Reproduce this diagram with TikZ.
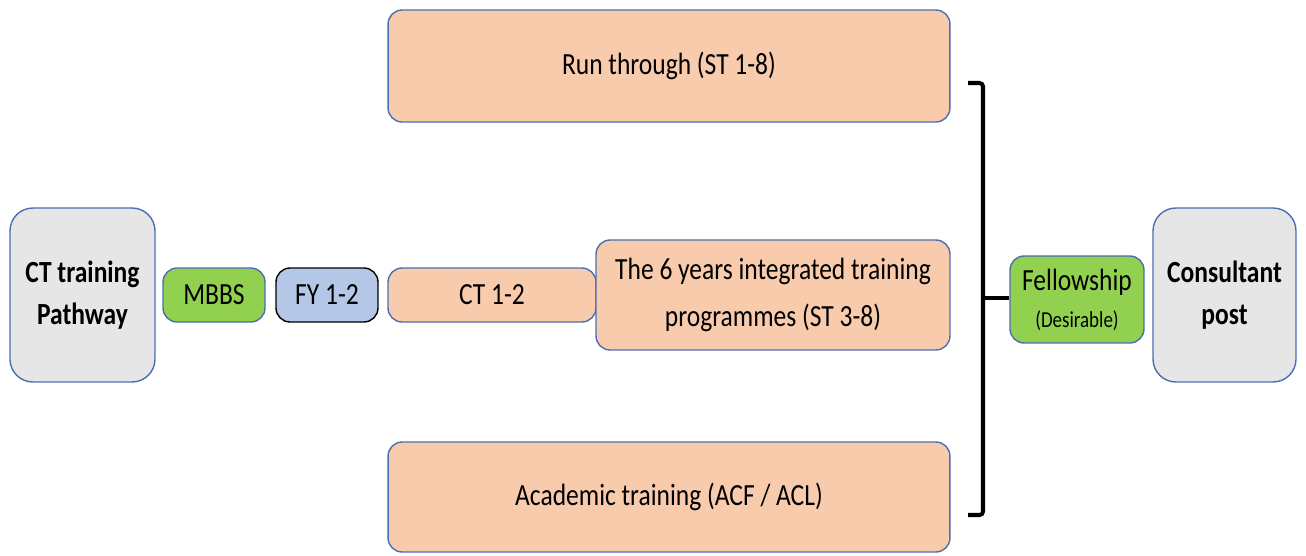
\documentclass[tikz,border=0pt]{standalone}
\usepackage{fontspec}
\setmainfont{Carlito}[FakeStretch=0.83]
\definecolor{boxgray}{HTML}{E7E6E6}
\definecolor{boxline}{HTML}{4A6FB0}
\definecolor{boxorange}{HTML}{F8CBAD}
\definecolor{boxgreen}{HTML}{92D050}
\definecolor{boxblue}{HTML}{B4C7E7}
\tikzset{
    stage/.style={draw=boxline, line width=0.8pt, rounded corners=8pt, align=center,
        font=\fontsize{17.5}{27}\selectfont, inner sep=2pt},
    endbox/.style={stage, fill=boxgray, rounded corners=13pt,
        font=\fontsize{17.5}{24}\selectfont\bfseries},
}
\begin{document}
\begin{tikzpicture}[x=0.02cm, y=-0.02cm]
            \useasboundingbox (0, 0) rectangle (1306, 555);

            \node[endbox, minimum width=2.9cm, minimum height=3.48cm] (path) at (82.5, 295) {CT training\\Pathway};
            \node[stage, fill=boxgreen, minimum width=2.04cm, minimum height=1.08cm] (mbbs) at (214, 295) {MBBS};
            \node[stage, fill=boxblue, draw=black, minimum width=2.04cm, minimum height=1.08cm] (fy) at (327, 295) {FY 1-2};
            \node[stage, fill=boxorange, minimum width=4.16cm, minimum height=1.08cm] (ct) at (492, 295) {CT 1-2};
            \node[stage, fill=boxorange, minimum width=7.08cm, minimum height=2.2cm] (integ) at (773, 295) {The 6 years integrated training\\programmes (ST 3-8)};
            \node[stage, fill=boxorange, minimum width=11.24cm, minimum height=2.24cm] (run) at (669, 66) {Run through (ST 1-8)};
            \node[stage, fill=boxorange, minimum width=11.24cm, minimum height=2.2cm] (acad) at (669, 497) {Academic training (ACF / ACL)};
            \node[stage, fill=boxgreen, minimum width=2.68cm, minimum height=1.74cm] (fellow) at (1077, 299.5) {Fellowship\\[-6pt]{\fontsize{13}{15}\selectfont (Desirable)}};
            \node[endbox, minimum width=2.86cm, minimum height=3.48cm] (cons) at (1224.5, 295) {Consultant\\post};

            % bracket joining the three routes
            \coordinate (brace) at (983, 298);
            \draw[line width=2.3pt, rounded corners=2pt] (968, 83) -- (983, 83) -- (983, 515) -- (968, 515);
            \draw[line width=2.3pt] (brace) -- (brace -| fellow.west);
\end{tikzpicture}
\end{document}
